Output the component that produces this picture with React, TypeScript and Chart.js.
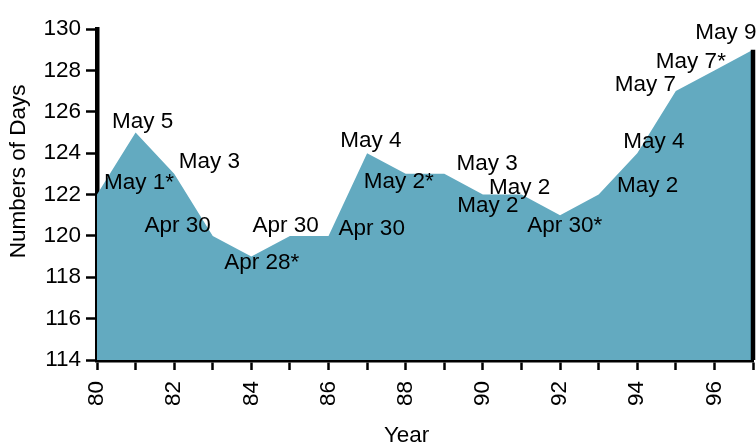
import React, { useEffect, useRef } from 'react';
import { Chart, registerables } from 'chart.js';

Chart.register(...registerables);

// Year (19xx) and day of the year on which the event fell
const years = [80, 81, 82, 83, 84, 85, 86, 87, 88, 89, 90, 91, 92, 93, 94, 95, 96, 97];
const dayOfYear = [122, 125, 123, 120, 119, 120, 120, 124, 123, 123, 122, 122, 121, 122, 124, 127, 128, 129];
const dateLabels = [
  'May 1*', 'May 5', 'May 3', 'Apr 30', 'Apr 28*', 'Apr 30', 'Apr 30', 'May 4', 'May 2*',
  'May 3', 'May 2', 'May 2', 'Apr 30*', 'May 2', 'May 4', 'May 7', 'May 7*', 'May 9',
];
// where each date label sits, in data units (label centre year, label baseline value)
const labelAnchorYear = [
  81.09, 81.18, 82.91, 82.09, 84.27, 84.89, 87.12, 87.1, 87.82,
  90.11, 90.13, 90.95, 92.12, 94.27, 94.43, 94.21, 95.39, 96.3,
];
const labelAnchorValue = [
  122.25, 125.2, 123.3, 120.17, 118.39, 120.2, 120.03, 124.31, 122.3,
  123.19, 121.14, 122.03, 120.2, 122.11, 124.23, 127.02, 128.13, 129.5,
];

const xTickValues = [80, 81, 82, 83, 84, 85, 86, 87, 88, 89, 90, 91, 92, 93, 94, 95, 96, 97];
const xTickLabels = ['80', '', '82', '', '84', '', '86', '', '88', '', '90', '', '92', '', '94', '', '96', ''];
const yTickValues = [114, 116, 118, 120, 122, 124, 126, 128, 130];

const xTitle = 'Year';
const yTitle = 'Numbers of Days';

const FONT = "'Liberation Sans', Arial, Helvetica, sans-serif";
const FONT_SIZE = 22.5;
const FILL = 'rgb(99,170,192)';

const annotatePlugin = {
  id: 'annotate',
  afterDatasetsDraw(chart: any) {
    const ctx = chart.ctx;
    const meta = chart.getDatasetMeta(0);
    const last = meta.data[meta.data.length - 1];
    ctx.save();
    ctx.strokeStyle = '#000';
    ctx.lineWidth = 4.5;
    ctx.beginPath();
    ctx.moveTo(last.x, last.y);
    ctx.lineTo(last.x, chart.chartArea.bottom);
    ctx.stroke();
    ctx.restore();
  },
  afterDraw(chart: any) {
    const ctx = chart.ctx;
    const xs = chart.scales.x;
    const ys = chart.scales.y;
    const area = chart.chartArea;
    ctx.save();
    ctx.fillStyle = '#000';
    ctx.font = `${FONT_SIZE}px ${FONT}`;
    ctx.textAlign = 'center';
    ctx.textBaseline = 'alphabetic';
    dateLabels.forEach((t, i) => {
      ctx.fillText(t, xs.getPixelForValue(labelAnchorYear[i]), ys.getPixelForValue(labelAnchorValue[i]));
    });
    // axis titles
    ctx.fillText(xTitle, area.left + (area.right - area.left) * 0.472, chart.height - 1.5);
    ctx.translate(25, area.top + (area.bottom - area.top) * 0.43);
    ctx.rotate(-Math.PI / 2);
    ctx.fillText(yTitle, 0, 0);
    ctx.restore();
  },
};

export default function App() {
  const ref = useRef<HTMLCanvasElement | null>(null);

  useEffect(() => {
    if (!ref.current) return;
    const chart = new Chart(ref.current, {
      type: 'line',
      data: {
        datasets: [
          {
            data: years.map((y, i) => ({ x: y, y: dayOfYear[i] })),
            fill: 'start',
            backgroundColor: FILL,
            borderWidth: 0,
            borderColor: FILL,
            pointRadius: 0,
            tension: 0,
          },
        ],
      },
      options: {
        animation: false,
        responsive: false,
        devicePixelRatio: 1,
        layout: { padding: { top: 29, right: 3, left: 0, bottom: 0 } },
        plugins: {
          legend: { display: false },
          tooltip: { enabled: false },
          title: { display: false },
        },
        scales: {
          x: {
            type: 'linear',
            min: 80,
            max: 97,
            z: 1,
            afterBuildTicks: (scale: any) => {
              scale.ticks = xTickValues.map((v) => ({ value: v }));
            },
            afterFit: (scale: any) => {
              scale.height = 83;
              scale.paddingLeft = 0;
              scale.paddingRight = 0;
            },
            ticks: {
              autoSkip: false,
              minRotation: 90,
              maxRotation: 90,
              padding: 11,
              color: '#000',
              font: { family: FONT, size: FONT_SIZE },
              callback: (_v: any, i: number) => xTickLabels[i],
            },
            grid: {
              display: true,
              drawOnChartArea: false,
              drawTicks: true,
              tickLength: 10,
              tickWidth: 2.5,
              tickColor: '#000',
            },
            border: { display: true, color: '#000', width: 4.5 },
          },
          y: {
            type: 'linear',
            min: 114,
            max: 130,
            z: 1,
            afterBuildTicks: (scale: any) => {
              scale.ticks = yTickValues.map((v) => ({ value: v }));
            },
            afterFit: (scale: any) => {
              scale.width = 97;
              scale.paddingTop = 0;
              scale.paddingBottom = 0;
            },
            ticks: {
              padding: 5,
              color: '#000',
              font: { family: FONT, size: FONT_SIZE },
              callback: (v: any) => String(v),
            },
            grid: {
              display: true,
              drawOnChartArea: false,
              drawTicks: true,
              tickLength: 11,
              tickWidth: 2.5,
              tickColor: '#000',
            },
            border: { display: true, color: '#000', width: 4.5 },
          },
        },
      },
      plugins: [annotatePlugin],
    });
    return () => chart.destroy();
  }, []);

  return (
    <div style={{ position: 'fixed', left: 0, top: 0, width: 756, height: 443, background: '#fff' }}>
      <canvas ref={ref} width={756} height={443} style={{ width: 756, height: 443, display: 'block' }} />
    </div>
  );
}
